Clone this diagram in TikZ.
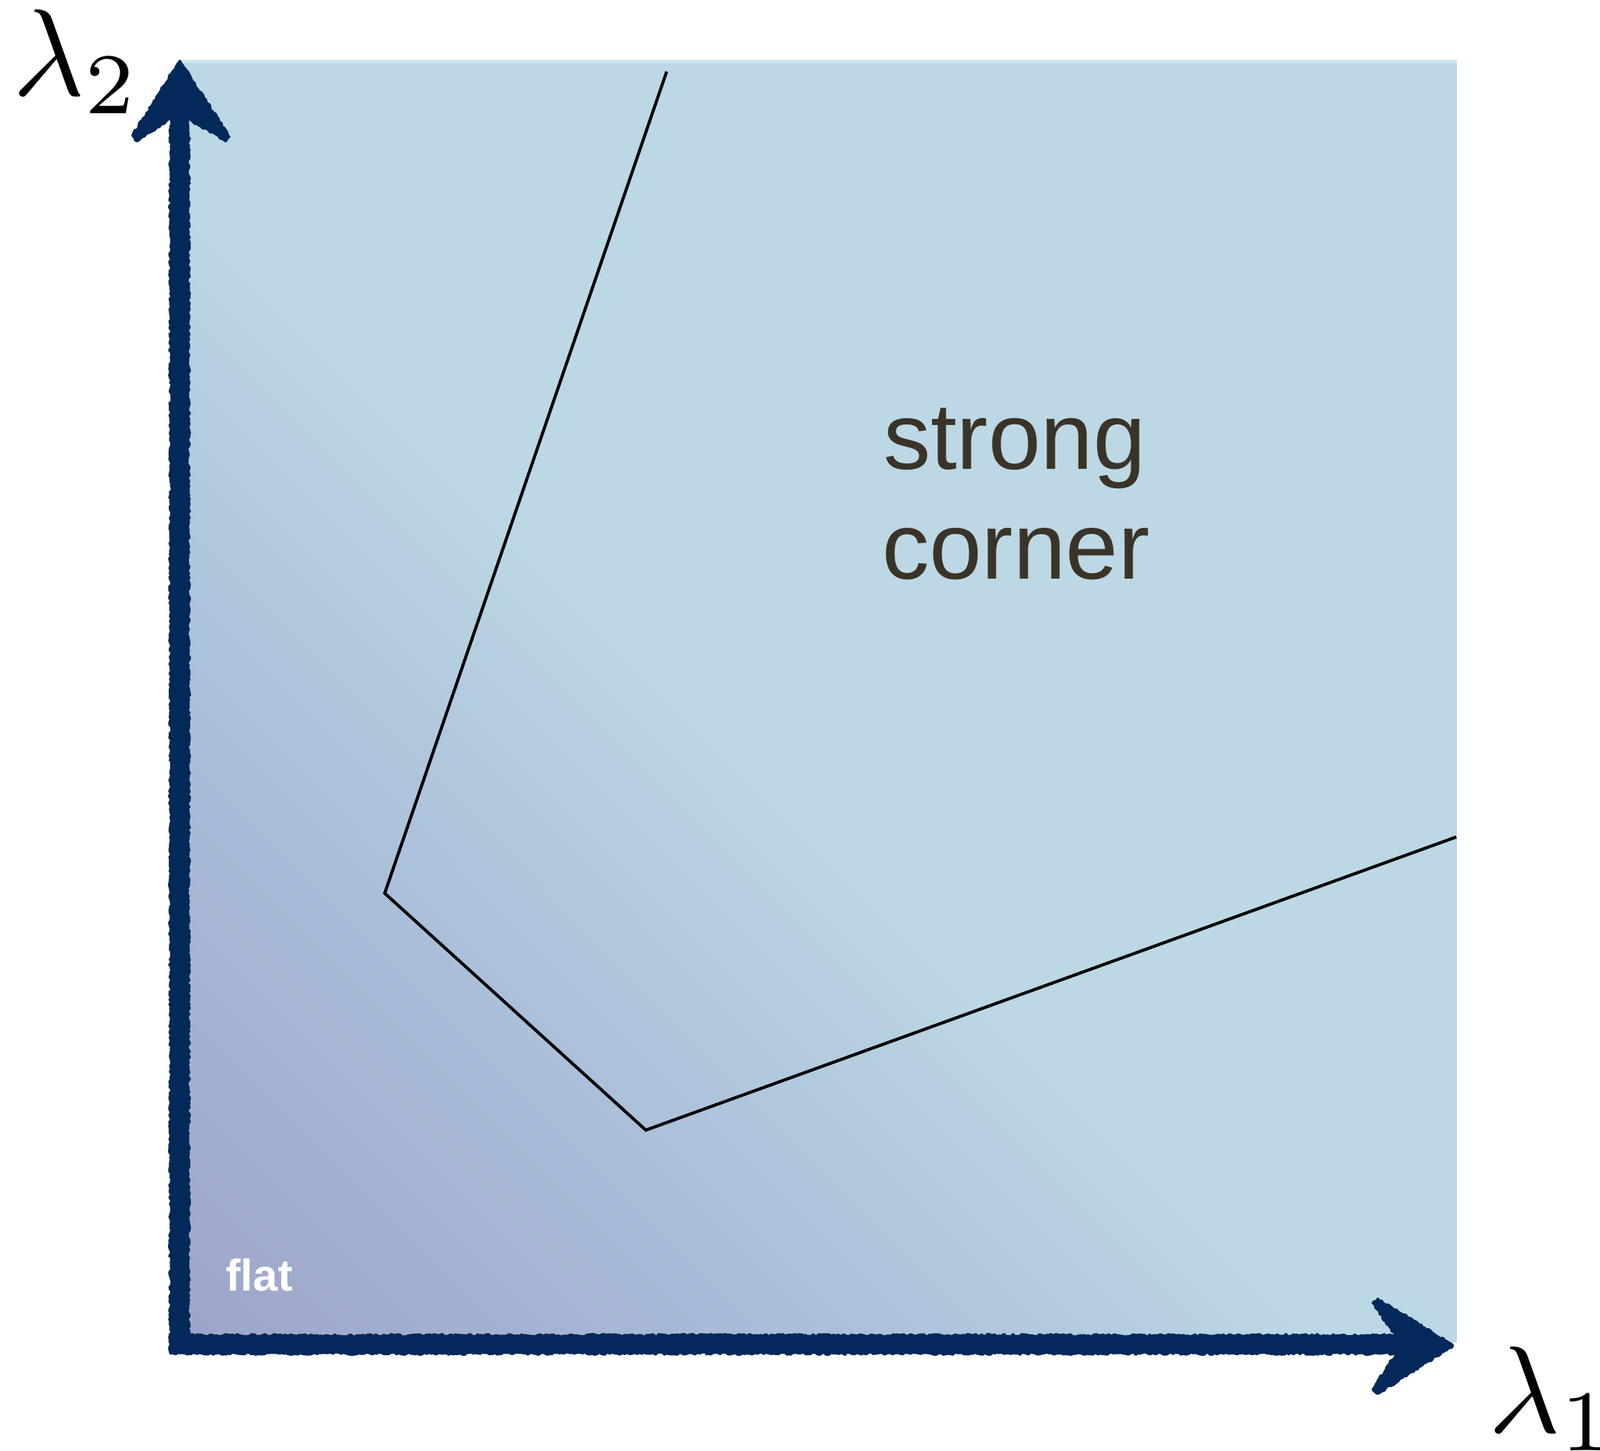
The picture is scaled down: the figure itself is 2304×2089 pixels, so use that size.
\documentclass[tikz,border=0pt]{standalone}
\usepackage{fontspec}
\setsansfont{Liberation Sans}
\usetikzlibrary{decorations.pathmorphing}
\definecolor{axisblue}{HTML}{03285A}
\definecolor{txtbrown}{HTML}{3A3428}
\definecolor{lightbg}{HTML}{BCD8E4}
\definecolor{topedge}{HTML}{CDE8F4}
\begin{document}
\begin{tikzpicture}[x=0.5pt,y=-0.5pt,
  axisline/.style={draw=axisblue, line width=12.5pt, line cap=butt},
  axisfuzz/.style={draw=axisblue, line width=2.2pt, line cap=round, line join=round,
    decorate, decoration={random steps, segment length=1.6pt, amplitude=0.9pt}},
  axishead/.style={fill=axisblue, draw=axisblue, line width=2pt, line join=round,
    decorate, decoration={random steps, segment length=1.6pt, amplitude=0.8pt}},
  boundary/.style={draw=black, line width=2.2pt, line join=miter},
  biglabel/.style={inner sep=0pt, anchor=base west, font=\fontsize{10}{12}\selectfont},
  regionlabel/.style={inner sep=0pt, anchor=base, text=txtbrown, font=\sffamily\fontsize{68}{79}\selectfont},
  smalllabel/.style={inner sep=0pt, anchor=base west, text=white, font=\sffamily\bfseries\fontsize{32}{38}\selectfont}
]
\useasboundingbox (0,0) rectangle (2304,2089);
\fill[white] (0,0) rectangle (2304,2089);
% shaded region
\begin{scope}
  \clip (257,86) rectangle (2098,1933);
  \fill[lightbg] (257,86) rectangle (2098,1933);
  \foreach \i in {0,...,89}{
    \pgfmathsetmacro\tA{\i*0.005}
    \pgfmathsetmacro\tB{(\i+1)*0.005+0.002}
    \pgfmathsetmacro\tM{(\i+0.5)*0.005}
    \pgfmathtruncatemacro\cR{ifthenelse(\tM<0.24,157+13*\tM/0.24,ifthenelse(\tM<0.37,170+10*(\tM-0.24)/0.13,180+8*(\tM-0.37)/0.08))}
    \pgfmathtruncatemacro\cG{ifthenelse(\tM<0.24,165+24*\tM/0.24,ifthenelse(\tM<0.37,189+16*(\tM-0.24)/0.13,205+11*(\tM-0.37)/0.08))}
    \pgfmathtruncatemacro\cB{ifthenelse(\tM<0.24,200+17*\tM/0.24,ifthenelse(\tM<0.37,217+7*(\tM-0.24)/0.13,224+4*(\tM-0.37)/0.08))}
    \definecolor{bandc}{RGB}{\cR,\cG,\cB}
    \pgfmathsetmacro\xA{257+2*\tA*1841}
    \pgfmathsetmacro\xB{257+2*\tB*1841}
    \pgfmathsetmacro\yA{1933-2*\tA*1847}
    \pgfmathsetmacro\yB{1933-2*\tB*1847}
    \fill[bandc] (\xA,1934) -- (\xB,1934) -- (256,\yB) -- (256,\yA) -- cycle;
  }
  \fill[topedge] (257,86) rectangle (2098,91);
\end{scope}
% boundary polyline
\coordinate (p1) at (960,103);
\coordinate (p2) at (554,1286);
\coordinate (p3) at (930,1627);
\coordinate (p4) at (2097,1205);
\draw[boundary] (p1) -- (p2) -- (p3) -- (p4);
% axes
\coordinate (xstart) at (244,1935);
\coordinate (xend) at (2040,1935);
\coordinate (ystart) at (258,1948);
\coordinate (yend) at (258,160);
\draw[axisline] (xstart) -- (xend);
\draw[axisline] (ystart) -- (yend);
% fuzzy edges
\draw[axisfuzz] (245,1923) -- (2030,1923);
\draw[axisfuzz] (246,1948) -- (2030,1948);
\draw[axisfuzz] (246,1948) -- (246,160);
\draw[axisfuzz] (271,1922) -- (271,160);
% arrowheads
\filldraw[axishead] (259,88) -- (330,197) -- (325,203) -- (272,171) -- (245,171) -- (197,203) -- (191,195) -- cycle;
\filldraw[axishead] (2092,1937) -- (1984,1870) -- (1977,1876) -- (2010,1922) -- (2010,1950) -- (1977,2000) -- (1984,2006) -- cycle;
% labels
\node[biglabel] (l2) at (18,137) {\scalebox{8.9}{$\lambda_2$}};
\node[biglabel] (l1) at (2143,2062) {\scalebox{8.9}{$\lambda_1$}};
\node[regionlabel] (strong) at (1461,675) {strong};
\node[regionlabel] (corner) at (1463,833) {corner};
\node[smalllabel] (flat) at (325,1858) {flat};
\end{tikzpicture}
\end{document}
